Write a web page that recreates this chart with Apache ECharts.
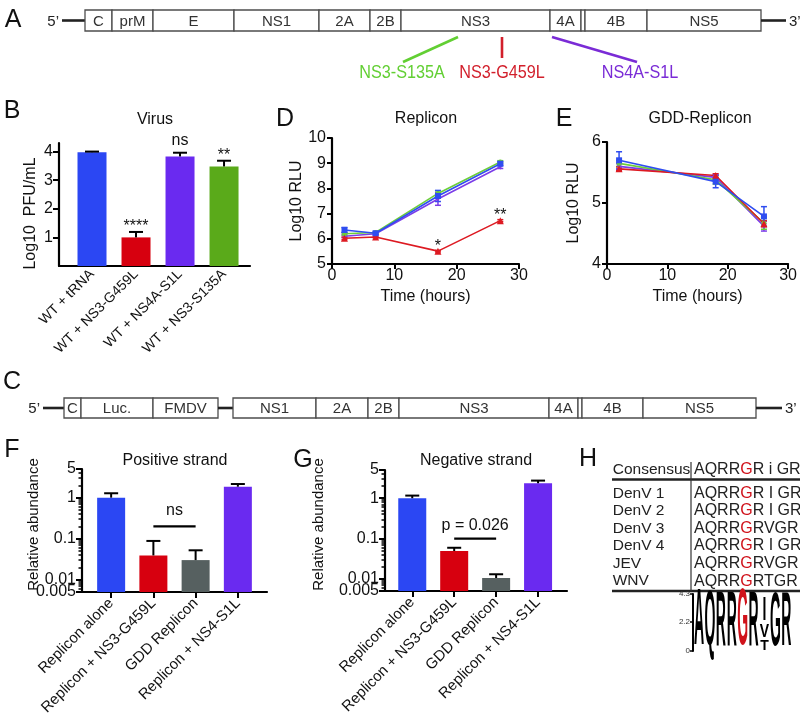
<!DOCTYPE html>
<html>
<head>
<meta charset="utf-8">
<script src="https://cdn.jsdelivr.net/npm/echarts@6/dist/echarts.min.js"></script>
<style>html,body{margin:0;padding:0;background:#fff;}#chart{width:800px;height:720px;}</style>
</head>
<body>
<div id="chart"></div>
<script>
// ================= DATA =================
// Panel A - viral genome (relative segment lengths)
const genomeA_names   = ['', 'C', 'prM', 'E', 'NS1', '2A', '2B', 'NS3', '4A', '', '4B', 'NS5', ''];
const genomeA_lengths = [23, 27, 41, 81, 85, 51, 31, 149, 31, 4, 62, 114, 25];
const genomeA_kinds   = ['line','box','box','box','box','box','box','box','box','box','box','box','line'];
// Panel A - mutations (position on genome scale)
const mutation_names  = ['NS3-S135A', 'NS3-G459L', 'NS4A-S1L'];
const mutation_pos    = [458, 502, 552];
const mutation_colors = ['#62cf33', '#d21f2b', '#7a2bd6'];

// Panel B - Virus
const virus_categories = ['WT + tRNA', 'WT + NS3-G459L', 'WT + NS4A-S1L', 'WT + NS3-S135A'];
const virus_values = [3.98, 1.0, 3.83, 3.48];
const virus_errors = [0.02, 0.19, 0.13, 0.2];
const virus_marks  = ['', '****', 'ns', '**'];
const virus_colors = ['#2b47f3', '#d7000f', '#6a2af0', '#5aaa1a'];
const virus_yticks = [1, 2, 3, 4];

// Panel D - Replicon
const rep_time = [2, 7, 17, 27];
const rep_blue   = [6.35, 6.22, 7.70, 8.98]; const rep_blue_err   = [0.10, 0.05, 0.22, 0.08];
const rep_green  = [6.20, 6.25, 7.80, 9.05]; const rep_green_err  = [0.05, 0.03, 0.10, 0.05];
const rep_purple = [6.10, 6.20, 7.58, 8.86]; const rep_purple_err = [0.05, 0.04, 0.25, 0.07];
const rep_red    = [6.02, 6.07, 5.51, 6.72]; const rep_red_err    = [0.05, 0.03, 0.03, 0.04];
const rep_red_marks = ['', '', '*', '**'];

// Panel E - GDD-Replicon
const gdd_time = [2, 18, 26];
const gdd_blue   = [5.70, 5.35, 4.78]; const gdd_blue_err   = [0.14, 0.10, 0.16];
const gdd_green  = [5.65, 5.38, 4.67]; const gdd_green_err  = [0.05, 0.07, 0.10];
const gdd_purple = [5.60, 5.42, 4.62]; const gdd_purple_err = [0.05, 0.05, 0.08];
const gdd_red    = [5.56, 5.45, 4.66]; const gdd_red_err    = [0.03, 0.03, 0.05];

// Panel C - replicon genome
const genomeC_names   = ['', 'C', 'Luc.', 'FMDV', '', 'NS1', '2A', '2B', 'NS3', '4A', '', '4B', 'NS5', ''];
const genomeC_lengths = [21, 17, 72, 65, 15, 83, 52, 31, 150, 29, 4, 61, 113, 26];
const genomeC_kinds   = ['line','box','box','box','line','box','box','box','box','box','box','box','box','line'];

// Panels F / G
const strand_categories = ['Replicon alone', 'Replicon + NS3-G459L', 'GDD Replicon', 'Replicon + NS4-S1L'];
const strand_colors = ['#2b47f3', '#d7000f', '#566060', '#6a2af0'];
const pos_values = [1.0, 0.039, 0.030, 1.85];
const pos_errors = [0.28, 0.049, 0.022, 0.30];
const neg_values = [1.0, 0.049, 0.0105, 2.35];
const neg_errors = [0.16, 0.010, 0.0025, 0.38];
const pos_compare = [2, 3, 0.2];  const pos_compare_label = 'ns';
const neg_compare = [2, 3, 0.1];  const neg_compare_label = 'p = 0.026';
const abundance_ticks = [0.005, 0.01, 0.1, 1, 5];
const abundance_tick_labels = ['0.005', '0.01', '0.1', '1', '5'];
const abundance_minor = [0.006,0.007,0.008,0.009,0.02,0.03,0.04,0.05,0.06,0.07,0.08,0.09,
                         0.2,0.3,0.4,0.5,0.6,0.7,0.8,0.9,2,3,4];

// Panel H
const align_header = ['Consensus', 'AQRRGR i GR'];
const align_names = ['DenV 1', 'DenV 2', 'DenV 3', 'DenV 4', 'JEV', 'WNV'];
const align_seqs  = ['AQRRGR I GR', 'AQRRGR I GR', 'AQRRGRVGR', 'AQRRGR I GR', 'AQRRGRVGR', 'AQRRGRTGR'];
const logo_letters = ['A', 'Q', 'R', 'R', 'G', 'R', 'I', 'V', 'T', 'G', 'R'];
const logo_pos     = [1, 2, 3, 4, 5, 6, 7, 7, 7, 8, 9];
const logo_lo      = [0, 0, 0, 0, 0, 0, 2.1, 0.95, 0, 0, 0];
const logo_hi      = [4.3, 4.25, 4.2, 4.2, 4.3, 4.2, 3.85, 1.95, 0.8, 4.15, 4.15];
const logo_ticks   = [0, 2.2, 4.3];

// ================= HELPERS =================
const FONT = '"Liberation Sans", Arial, Helvetica, sans-serif';
const BLACK = '#111';
const mctx = document.createElement('canvas').getContext('2d');
function textW(t, font) { mctx.font = font; return mctx.measureText(t).width; }
function txt(text, x, y, font, fill, align, valign, extra) {
  return Object.assign({ type: 'text', style: { text, x, y, font, fill: fill || BLACK,
    align: align || 'center', textAlign: align || 'center',
    verticalAlign: valign || 'middle', textVerticalAlign: valign || 'middle' } }, extra || {});
}
function cumulative(start, lengths) {
  let p = start;
  return lengths.map((l, i) => { const s = p; p += l; return [s, p, i]; });
}
const tf = v => Math.log10(v / abundance_ticks[0]);
const labelFor = v => { const k = abundance_ticks.findIndex(t => Math.abs(tf(t) - v) < 1e-6); return k >= 0 ? abundance_tick_labels[k] : ''; };

function genomeSeries(gi, start, names, lengths, kinds) {
  return {
    type: 'custom', xAxisIndex: gi, yAxisIndex: gi, silent: true,
    data: cumulative(start, lengths), encode: { x: [0, 1] },
    renderItem: (params, api) => {
      const i = api.value(2);
      const a = api.coord([api.value(0), 1]);
      const b = api.coord([api.value(1), 0]);
      const midY = (a[1] + b[1]) / 2;
      const ch = [];
      if (kinds[i] === 'box') {
        ch.push({ type: 'rect', shape: { x: a[0], y: a[1], width: b[0] - a[0], height: b[1] - a[1] },
          style: { fill: '#fff', stroke: '#4d4d4d', lineWidth: 1.3 } });
        if (names[i]) ch.push(txt(names[i], (a[0] + b[0]) / 2, midY + 1, '15px ' + FONT, '#333'));
      } else {
        ch.push({ type: 'line', shape: { x1: a[0], y1: midY, x2: b[0], y2: midY },
          style: { stroke: '#222', lineWidth: 2.6 } });
        if (i === 0) ch.push(txt('5\u2019', a[0] - 3, midY + 1, '15px ' + FONT, '#222', 'right'));
        if (i === names.length - 1) ch.push(txt('3\u2019', b[0] + 3, midY + 1, '15px ' + FONT, '#222', 'left'));
      }
      return { type: 'group', children: ch };
    }
  };
}

function errSeries(gi, yi, xs, vals, errs, color, capW, lw, both, fy) {
  fy = fy || (v => v);
  return {
    type: 'custom', xAxisIndex: gi, yAxisIndex: yi, silent: true, z: 4,
    data: xs.map((x, i) => [x, vals[i], errs[i]]), encode: { x: 0, y: 1 },
    renderItem: (params, api) => {
      const x = api.value(0), v = api.value(1), e = api.value(2);
      const top = api.coord([x, fy(v + e)]);
      const bot = api.coord([x, fy(both ? v - e : v)]);
      const st = { stroke: color, lineWidth: lw };
      const ch = [
        { type: 'line', shape: { x1: top[0], y1: top[1], x2: bot[0], y2: bot[1] }, style: st },
        { type: 'line', shape: { x1: top[0] - capW / 2, y1: top[1], x2: top[0] + capW / 2, y2: top[1] }, style: st }
      ];
      if (both) ch.push({ type: 'line', shape: { x1: bot[0] - capW / 2, y1: bot[1], x2: bot[0] + capW / 2, y2: bot[1] }, style: st });
      return { type: 'group', children: ch };
    }
  };
}

function lineSeries(gi, xs, ys, color, symbol, size, rot, z) {
  return {
    type: 'line', xAxisIndex: gi, yAxisIndex: gi, z: z, silent: true,
    data: xs.map((x, i) => [x, ys[i]]),
    symbol: symbol, symbolSize: size, symbolRotate: rot || 0, showSymbol: true,
    lineStyle: { color: color, width: 1.6 }, itemStyle: { color: color }
  };
}

function axisLineStyle() { return { show: true, onZero: false, lineStyle: { color: '#000', width: 2.2 } }; }
function hiddenAxis(gi, min, max, inverse) { return { gridIndex: gi, type: 'value', min, max, show: false, inverse: !!inverse }; }

function barAxisX(gi, min, max, cats, ticks, fs) {
  return {
    gridIndex: gi, type: 'value', min, max, splitLine: { show: false },
    axisLine: axisLineStyle(),
    axisTick: ticks ? { show: true, customValues: [1, 2, 3, 4], length: 6, lineStyle: { color: '#000', width: 2 } } : { show: false },
    axisLabel: { customValues: [1, 2, 3, 4], formatter: v => cats[Math.round(v) - 1] || '', hideOverlap: false,
      rotate: 45, fontSize: fs, color: BLACK, fontFamily: FONT, margin: ticks ? 9 : 6 }
  };
}

// major axis (labels 0.01..5 + name), minor-tick axis, and a separate axis carrying only the 0.005 label
function abundanceY(gi, gap, pad) {
  const majorLabels = abundance_ticks.slice(1).map(tf);
  return [{
    gridIndex: gi, type: 'value', min: 0, max: tf(5), splitLine: { show: false },
    axisLine: axisLineStyle(),
    axisTick: { show: true, customValues: abundance_ticks.map(tf), length: 6, lineStyle: { color: '#000', width: 2 } },
    axisLabel: { customValues: majorLabels, fontSize: 16, color: BLACK, fontFamily: FONT, margin: 6,
      hideOverlap: false, showMinLabel: true, showMaxLabel: true, formatter: labelFor },
    name: 'Relative abundance', nameLocation: 'middle', nameGap: gap,
    nameTextStyle: { fontSize: 15, color: BLACK, fontFamily: FONT, padding: pad }
  }, {
    gridIndex: gi, type: 'value', min: 0, max: tf(5), position: 'left', splitLine: { show: false },
    axisLine: { show: false }, axisLabel: { show: false },
    axisTick: { show: true, customValues: abundance_minor.map(tf), length: 3.5, lineStyle: { color: '#000', width: 1.5 } }
  }, {
    gridIndex: gi, type: 'value', min: 0, max: tf(5), position: 'left', splitLine: { show: false },
    axisLine: { show: false }, axisTick: { show: false },
    axisLabel: { customValues: [tf(abundance_ticks[0])], fontSize: 16, color: BLACK, fontFamily: FONT, margin: 6,
      showMinLabel: true, hideOverlap: false, formatter: labelFor }
  }];
}

function strandBars(gi, yi, vals) {
  return { type: 'bar', xAxisIndex: gi, yAxisIndex: yi, barWidth: 28, silent: true,
    data: vals.map((v, i) => ({ value: [i + 1, tf(v)], itemStyle: { color: strand_colors[i] } })) };
}

function compareSeries(gi, yi, cmp, label, lift) {
  return {
    type: 'custom', xAxisIndex: gi, yAxisIndex: yi, silent: true, z: 6,
    data: [cmp], encode: { x: [0, 1] },
    renderItem: (params, api) => {
      const a = api.coord([api.value(0), tf(api.value(2))]);
      const b = api.coord([api.value(1), tf(api.value(2))]);
      return { type: 'group', children: [
        { type: 'line', shape: { x1: a[0], y1: a[1], x2: b[0], y2: b[1] }, style: { stroke: '#000', lineWidth: 2.2 } },
        txt(label, (a[0] + b[0]) / 2, a[1] - lift, '16px ' + FONT, BLACK)
      ] };
    }
  };
}

// ================= OPTION =================
const grids = [
  { left: 0, top: 10, width: 800, height: 21 },      // 0 genome A
  { left: 59, top: 143, width: 191, height: 123 },   // 1 B
  { left: 332, top: 138, width: 187, height: 126 },  // 2 D
  { left: 607, top: 142, width: 185, height: 122 },  // 3 E
  { left: 0, top: 398, width: 800, height: 20 },     // 4 genome C
  { left: 82, top: 469, width: 185, height: 123 },   // 5 F
  { left: 385, top: 470, width: 182, height: 121 },  // 6 G
  { left: 600, top: 461, width: 200, height: 130 },  // 7 H table
  { left: 693, top: 594, width: 107, height: 57 }    // 8 logo
];

const xAxes = [
  hiddenAxis(0, 0, 800),
  barAxisX(1, 0.25, 4.59, virus_categories, false, 14),
  { gridIndex: 2, type: 'value', min: 0, max: 30, interval: 10, splitLine: { show: false },
    axisLine: axisLineStyle(), axisTick: { length: 5, lineStyle: { color: '#000', width: 2 } },
    axisLabel: { fontSize: 16, color: BLACK, fontFamily: FONT, margin: 4 },
    name: 'Time (hours)', nameLocation: 'middle', nameGap: 25, nameTextStyle: { fontSize: 16, color: BLACK, fontFamily: FONT } },
  { gridIndex: 3, type: 'value', min: 0, max: 30, interval: 10, splitLine: { show: false },
    axisLine: axisLineStyle(), axisTick: { length: 5, lineStyle: { color: '#000', width: 2 } },
    axisLabel: { fontSize: 16, color: BLACK, fontFamily: FONT, margin: 4 },
    name: 'Time (hours)', nameLocation: 'middle', nameGap: 25, nameTextStyle: { fontSize: 16, color: BLACK, fontFamily: FONT } },
  hiddenAxis(4, 0, 800),
  barAxisX(5, 0.31, 4.69, strand_categories, true, 15),
  barAxisX(6, 0.35, 4.69, strand_categories, true, 15),
  hiddenAxis(7, 0, 200),
  hiddenAxis(8, 0.45, 10.25)
];

const yAxes = [
  hiddenAxis(0, 0, 1),                                   // 0
  { gridIndex: 1, type: 'value', min: 0, max: 4.3, splitLine: { show: false },   // 1
    axisLine: axisLineStyle(),
    axisTick: { customValues: virus_yticks, length: 6, lineStyle: { color: '#000', width: 2 } },
    axisLabel: { customValues: virus_yticks, fontSize: 16, color: BLACK, fontFamily: FONT, margin: 6 },
    name: 'Log10  PFU/mL', nameLocation: 'middle', nameGap: 20,
    nameTextStyle: { fontSize: 16, color: BLACK, fontFamily: FONT, padding: [0, 18, 0, 0] } },
  { gridIndex: 2, type: 'value', min: 5, max: 10, interval: 1, splitLine: { show: false },  // 2
    axisLine: axisLineStyle(), axisTick: { length: 5, lineStyle: { color: '#000', width: 2 } },
    axisLabel: { fontSize: 16, color: BLACK, fontFamily: FONT, margin: 6 },
    name: 'Log10 RLU', nameLocation: 'middle', nameGap: 26, nameTextStyle: { fontSize: 16, color: BLACK, fontFamily: FONT } },
  { gridIndex: 3, type: 'value', min: 4, max: 6, interval: 1, splitLine: { show: false },   // 3
    axisLine: axisLineStyle(), axisTick: { length: 5, lineStyle: { color: '#000', width: 2 } },
    axisLabel: { fontSize: 16, color: BLACK, fontFamily: FONT, margin: 6 },
    name: 'Log10 RLU', nameLocation: 'middle', nameGap: 25, nameTextStyle: { fontSize: 16, color: BLACK, fontFamily: FONT } },
  hiddenAxis(4, 0, 1),                                   // 4
  ...abundanceY(5, 38, [0, 0, 0, 12]),                   // 5,6,7
  ...abundanceY(6, 59, [0, 0, 0, 12]),                   // 8,9,10
  hiddenAxis(7, -0.51, 6.89, true),                      // 11
  { gridIndex: 8, type: 'value', min: 0, max: 4.3, splitLine: { show: false },   // 12
    axisLine: { show: true, onZero: false, lineStyle: { color: '#000', width: 2 } },
    axisTick: { customValues: logo_ticks, length: 3, lineStyle: { color: '#000', width: 1.5 } },
    axisLabel: { customValues: logo_ticks, fontSize: 8, color: '#333', fontFamily: FONT, margin: 3, hideOverlap: false,
      showMinLabel: true, showMaxLabel: true } }
];

const series = [];
// --- A
series.push(genomeSeries(0, 62, genomeA_names, genomeA_lengths, genomeA_kinds));
const mutLineEnd = [[-55, 31], [0, 27], [85, 31]];
const mutLabelDx = [-56, 0, 88];
series.push({
  type: 'custom', xAxisIndex: 0, yAxisIndex: 0, silent: true,
  data: mutation_pos.map((p, i) => [p, 0, i]), encode: { x: 0, y: 1 },
  renderItem: (params, api) => {
    const i = api.value(2);
    const p = api.coord([api.value(0), 0]);
    return { type: 'group', children: [
      { type: 'line', shape: { x1: p[0], y1: p[1] + 6, x2: p[0] + mutLineEnd[i][0], y2: p[1] + mutLineEnd[i][1] },
        style: { stroke: mutation_colors[i], lineWidth: 2.6 } },
      txt(mutation_names[i], 0, 0, '18px ' + FONT, mutation_colors[i], 'center', 'middle',
        { x: p[0] + mutLabelDx[i], y: p[1] + 42, scaleX: 0.9, scaleY: 1.05 })
    ] };
  }
});
// --- B
series.push({ type: 'bar', xAxisIndex: 1, yAxisIndex: 1, barWidth: 29, silent: true,
  data: virus_values.map((v, i) => ({ value: [i + 1, v], itemStyle: { color: virus_colors[i] } })) });
series.push(errSeries(1, 1, [1, 2, 3, 4], virus_values, virus_errors, '#000', 14, 2, false));
series.push({
  type: 'custom', xAxisIndex: 1, yAxisIndex: 1, silent: true, z: 6,
  data: virus_values.map((v, i) => [i + 1, v + virus_errors[i], i]), encode: { x: 0, y: 1 },
  renderItem: (params, api) => {
    const m = virus_marks[api.value(2)];
    const p = api.coord([api.value(0), api.value(1)]);
    return txt(m, p[0], p[1] - (m.indexOf('*') >= 0 ? 5 : 12), '16px ' + FONT, BLACK);
  }
});
// --- D
series.push(errSeries(2, 2, rep_time, rep_purple, rep_purple_err, '#7b3de8', 6, 1.5, true));
series.push(errSeries(2, 2, rep_time, rep_green, rep_green_err, '#6cce3a', 6, 1.5, true));
series.push(errSeries(2, 2, rep_time, rep_red, rep_red_err, '#dd1a22', 6, 1.5, true));
series.push(errSeries(2, 2, rep_time, rep_blue, rep_blue_err, '#2f4df0', 6, 1.5, true));
series.push(lineSeries(2, rep_time, rep_purple, '#7b3de8', 'triangle', 6, 180, 5));
series.push(lineSeries(2, rep_time, rep_green, '#6cce3a', 'circle', 5, 0, 5));
series.push(lineSeries(2, rep_time, rep_red, '#dd1a22', 'triangle', 7, 0, 5));
series.push(lineSeries(2, rep_time, rep_blue, '#2f4df0', 'rect', 6, 0, 6));
series.push({
  type: 'custom', xAxisIndex: 2, yAxisIndex: 2, silent: true, z: 7,
  data: rep_time.map((t, i) => [t, rep_red[i], i]), encode: { x: 0, y: 1 },
  renderItem: (params, api) => {
    const p = api.coord([api.value(0), api.value(1)]);
    return txt(rep_red_marks[api.value(2)], p[0], p[1] - 5, '16px ' + FONT, BLACK);
  }
});
// --- E
series.push(errSeries(3, 3, gdd_time, gdd_purple, gdd_purple_err, '#7b3de8', 6, 1.5, true));
series.push(errSeries(3, 3, gdd_time, gdd_green, gdd_green_err, '#6cce3a', 6, 1.5, true));
series.push(errSeries(3, 3, gdd_time, gdd_red, gdd_red_err, '#dd1a22', 6, 1.5, true));
series.push(errSeries(3, 3, gdd_time, gdd_blue, gdd_blue_err, '#2f4df0', 6, 1.5, true));
series.push(lineSeries(3, gdd_time, gdd_purple, '#7b3de8', 'triangle', 6, 180, 5));
series.push(lineSeries(3, gdd_time, gdd_green, '#6cce3a', 'circle', 5, 0, 5));
series.push(lineSeries(3, gdd_time, gdd_red, '#dd1a22', 'triangle', 7, 0, 5));
series.push(lineSeries(3, gdd_time, gdd_blue, '#2f4df0', 'rect', 6, 0, 6));
// --- C
series.push(genomeSeries(4, 43, genomeC_names, genomeC_lengths, genomeC_kinds));
// --- F (y axes 5,6,7)
series.push(strandBars(5, 5, pos_values));
series.push(errSeries(5, 5, [1, 2, 3, 4], pos_values, pos_errors, '#000', 14, 2, false, tf));
series.push(compareSeries(5, 5, pos_compare, pos_compare_label, 16));
// --- G (y axes 8,9,10)
series.push(strandBars(6, 8, neg_values));
series.push(errSeries(6, 8, [1, 2, 3, 4], neg_values, neg_errors, '#000', 14, 2, false, tf));
series.push(compareSeries(6, 8, neg_compare, neg_compare_label, 13));
// --- H table (y axis 11)
const tableRows = [align_header].concat(align_names.map((n, i) => [n, align_seqs[i]]));
series.push({
  type: 'custom', xAxisIndex: 7, yAxisIndex: 11, silent: true,
  data: tableRows.map((r, i) => [0, i === 0 ? 0 : i + 0.33, i]), encode: { x: 0, y: 1 },
  renderItem: (params, api) => {
    const i = api.value(2);
    const row = tableRows[i];
    const pn = api.coord([12.7, api.value(1)]);
    const ps = api.coord([94, api.value(1)]);
    const fN = '15.5px ' + FONT, fS = '16px ' + FONT;
    const s = row[1], pre = s.slice(0, 4), g = s.charAt(4), post = s.slice(5);
    const w1 = textW(pre, fS), w2 = textW(g, fS);
    return { type: 'group', children: [
      txt(row[0], pn[0], pn[1], fN, '#222', 'left'),
      txt(pre, ps[0], ps[1], fS, '#222', 'left'),
      txt(g, ps[0] + w1, ps[1], fS, '#d0121b', 'left'),
      txt(post, ps[0] + w1 + w2, ps[1], fS, '#222', 'left')
    ] };
  }
});
// --- H logo (y axis 12)
series.push({
  type: 'custom', xAxisIndex: 8, yAxisIndex: 12, silent: true,
  data: logo_letters.map((l, i) => [logo_pos[i], logo_lo[i], logo_hi[i], i]), encode: { x: 0, y: [1, 2] },
  renderItem: (params, api) => {
    const i = api.value(3);
    const lo = api.coord([api.value(0), api.value(1)]);
    const hi = api.coord([api.value(0), api.value(2)]);
    const h = lo[1] - hi[1];
    const cap = 14 * 0.716;
    return txt(logo_letters[i], 0, 0, 'bold 14px ' + FONT, logo_letters[i] === 'G' && logo_pos[i] === 5 ? '#d0121b' : '#000',
      'center', 'middle', { x: lo[0], y: (lo[1] + hi[1]) / 2, scaleX: 1.0, scaleY: h / cap });
  }
});

const letters = [['A', 13, 20], ['B', 12, 111], ['C', 12, 382], ['D', 285, 119], ['E', 564, 119],
                 ['F', 12, 450], ['G', 303, 460], ['H', 588, 459]];
const titles = [['Virus', 155, 120], ['Replicon', 426, 119], ['GDD-Replicon', 700, 119],
                ['Positive strand', 175, 461], ['Negative strand', 476, 461]];
const graphics = [];
letters.forEach(l => graphics.push(txt(l[0], l[1], l[2], '25px ' + FONT, '#111')));
titles.forEach(t => graphics.push(txt(t[0], t[1], t[2], '16px ' + FONT, '#111')));
// table frame
graphics.push({ type: 'line', shape: { x1: 612, y1: 479.5, x2: 800, y2: 479.5 }, style: { stroke: '#222', lineWidth: 2.5 } });
graphics.push({ type: 'line', shape: { x1: 612, y1: 591, x2: 800, y2: 591 }, style: { stroke: '#222', lineWidth: 2.5 } });
graphics.push({ type: 'line', shape: { x1: 691, y1: 462, x2: 691, y2: 591 }, style: { stroke: '#333', lineWidth: 1.2 } });

const chart = echarts.init(document.getElementById('chart'), null, { renderer: 'canvas' });
chart.setOption({
  animation: false,
  backgroundColor: '#fff',
  textStyle: { fontFamily: FONT },
  grid: grids,
  xAxis: xAxes,
  yAxis: yAxes,
  series: series,
  graphic: { elements: graphics }
});
</script>
</body>
</html>
